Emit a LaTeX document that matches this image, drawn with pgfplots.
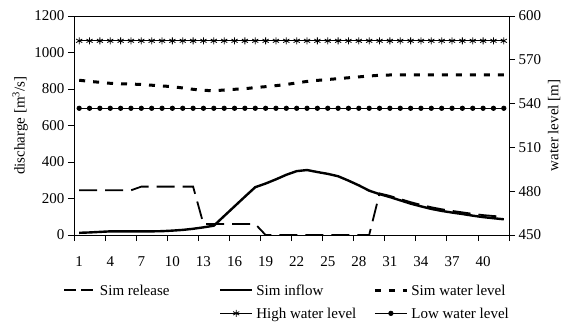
\documentclass[border=0pt]{standalone}
\usepackage{fontspec}
\setmainfont{Liberation Serif}
\usepackage{pgfplots}
\usepackage{pgfplotstable}
\pgfplotsset{compat=1.18}

\pgfplotstableread{
x release inflow
1 245 12
2 245 14
3 245 17
4 245 20
5 245 20
6 245 20
7 265 20
8 265 20
9 265 21
10 265 24
11 265 28
12 265 34
13 60 42
14 60 51
15 60 104
16 60 157
17 60 210
18 60 262
19 0 282
20 0 305
21 0 330
22 0 350
23 0 356
24 0 345
25 0 335
26 0 322
27 0 298
28 0 272
29 0 243
30 228 224
31 214 208
32 197 190
33 180 172
34 165 157
35 152 143
36 141 132
37 132 123
38 124 115
39 116 106
40 109 98
41 104 92
42 100 86
}\dischargedata

\pgfplotstableread{
x level high low
1 556.0 583 536.8
2 555.2 583 536.8
3 554.6 583 536.8
4 553.9 583 536.8
5 553.6 583 536.8
6 553.4 583 536.8
7 553.1 583 536.8
8 552.6 583 536.8
9 552.1 583 536.8
10 551.6 583 536.8
11 550.7 583 536.8
12 549.8 583 536.8
13 549.1 583 536.8
14 548.8 583 536.8
15 549.3 583 536.8
16 549.8 583 536.8
17 550.2 583 536.8
18 551.0 583 536.8
19 551.6 583 536.8
20 552.3 583 536.8
21 553.1 583 536.8
22 554.2 583 536.8
23 555.2 583 536.8
24 555.9 583 536.8
25 556.5 583 536.8
26 557.1 583 536.8
27 557.7 583 536.8
28 558.3 583 536.8
29 558.9 583 536.8
30 559.4 583 536.8
31 559.6 583 536.8
32 559.6 583 536.8
33 559.6 583 536.8
34 559.6 583 536.8
35 559.6 583 536.8
36 559.6 583 536.8
37 559.6 583 536.8
38 559.6 583 536.8
39 559.6 583 536.8
40 559.6 583 536.8
41 559.6 583 536.8
42 559.6 583 536.8
}\leveldata

\pgfplotsset{
  every axis/.append style={font=\fontsize{15}{18}\selectfont},
  /pgf/number format/assume math mode=true,
  /pgf/number format/1000 sep={},
}

\begin{document}
\begin{tikzpicture}
\useasboundingbox (-74pt,-87pt) rectangle (491pt,235pt);
\begin{axis}[
  at={(0pt,0pt)}, anchor=south west,
  scale only axis, width=435pt, height=219pt,
  xmin=0.5, xmax=42.5, ymin=0, ymax=1200,
  ytick={0,200,...,1200}, scaled y ticks=false,
  xtick={0.5,3.5,...,42.5},
  xticklabels={1,4,7,10,13,16,19,22,25,28,31,34,37,40,{}},
  x tick label style={xshift=5.18pt, yshift=-12pt},
  xtick pos=bottom, ytick pos=left,
  tick align=outside, major tick length=6pt,
  axis line style={line width=0.8pt},
  every tick/.style={black, line width=0.8pt},
  clip=false,
  ylabel={discharge [m\textsuperscript{3}/s]},
  every axis y label/.style={at={(axis description cs:-0.124,0.5)}, rotate=90, anchor=center, inner sep=0pt},
]
\addplot[black, line width=1.8pt, dash pattern=on 18pt off 8pt] table[x=x,y=release] {\dischargedata};
\addplot[black, line width=2.4pt] table[x=x,y=inflow] {\dischargedata};
\end{axis}
\begin{axis}[
  at={(0pt,0pt)}, anchor=south west,
  scale only axis, width=435pt, height=219pt,
  xmin=0.5, xmax=42.5, ymin=450, ymax=600,
  ytick={450,480,...,600},
  hide x axis, axis y line*=right,
  tick align=outside, major tick length=6pt,
  axis line style={line width=0.8pt},
  every tick/.style={black, line width=0.8pt},
  clip=false,
  ylabel={water level [m]},
  every axis y label/.style={at={(axis description cs:1.104,0.5)}, rotate=90, anchor=center, inner sep=0pt},
  legend image code/.code={\draw[mark repeat=2,mark phase=2,#1] plot coordinates {(0pt,0pt) (16pt,0pt) (32pt,0pt)};},
  legend cell align=left,
  legend style={
    at={(axis description cs:-0.0322,-0.21)}, anchor=north west,
    draw=none, fill=none, legend columns=3,
    nodes={inner sep=0pt},
    row sep=9pt,
    /tikz/every odd column/.append style={column sep=3pt},
    font=\fontsize{15}{18}\selectfont,
  },
]
\addlegendimage{black, line width=1.8pt, dash pattern=on 12pt off 5pt}
\addlegendentry{\makebox[119pt][l]{\strut Sim release}}
\addlegendimage{black, line width=2.4pt}
\addlegendentry{\makebox[117pt][l]{\strut Sim inflow}}
\addplot[black, line width=3pt, dash pattern=on 6pt off 8pt] table[x=x,y=level] {\leveldata};
\addlegendentry{\strut Sim water level}
\addlegendimage{empty legend}
\addlegendentry{}
\addplot[black, line width=0.8pt, mark=asterisk, mark size=3.5pt, mark options={line width=0.8pt}] table[x=x,y=high] {\leveldata};
\addlegendentry{\strut High water level}
\addplot[black, line width=0.8pt, mark=*, mark size=2.2pt] table[x=x,y=low] {\leveldata};
\addlegendentry{\strut Low water level}
\end{axis}
\end{tikzpicture}
\end{document}
